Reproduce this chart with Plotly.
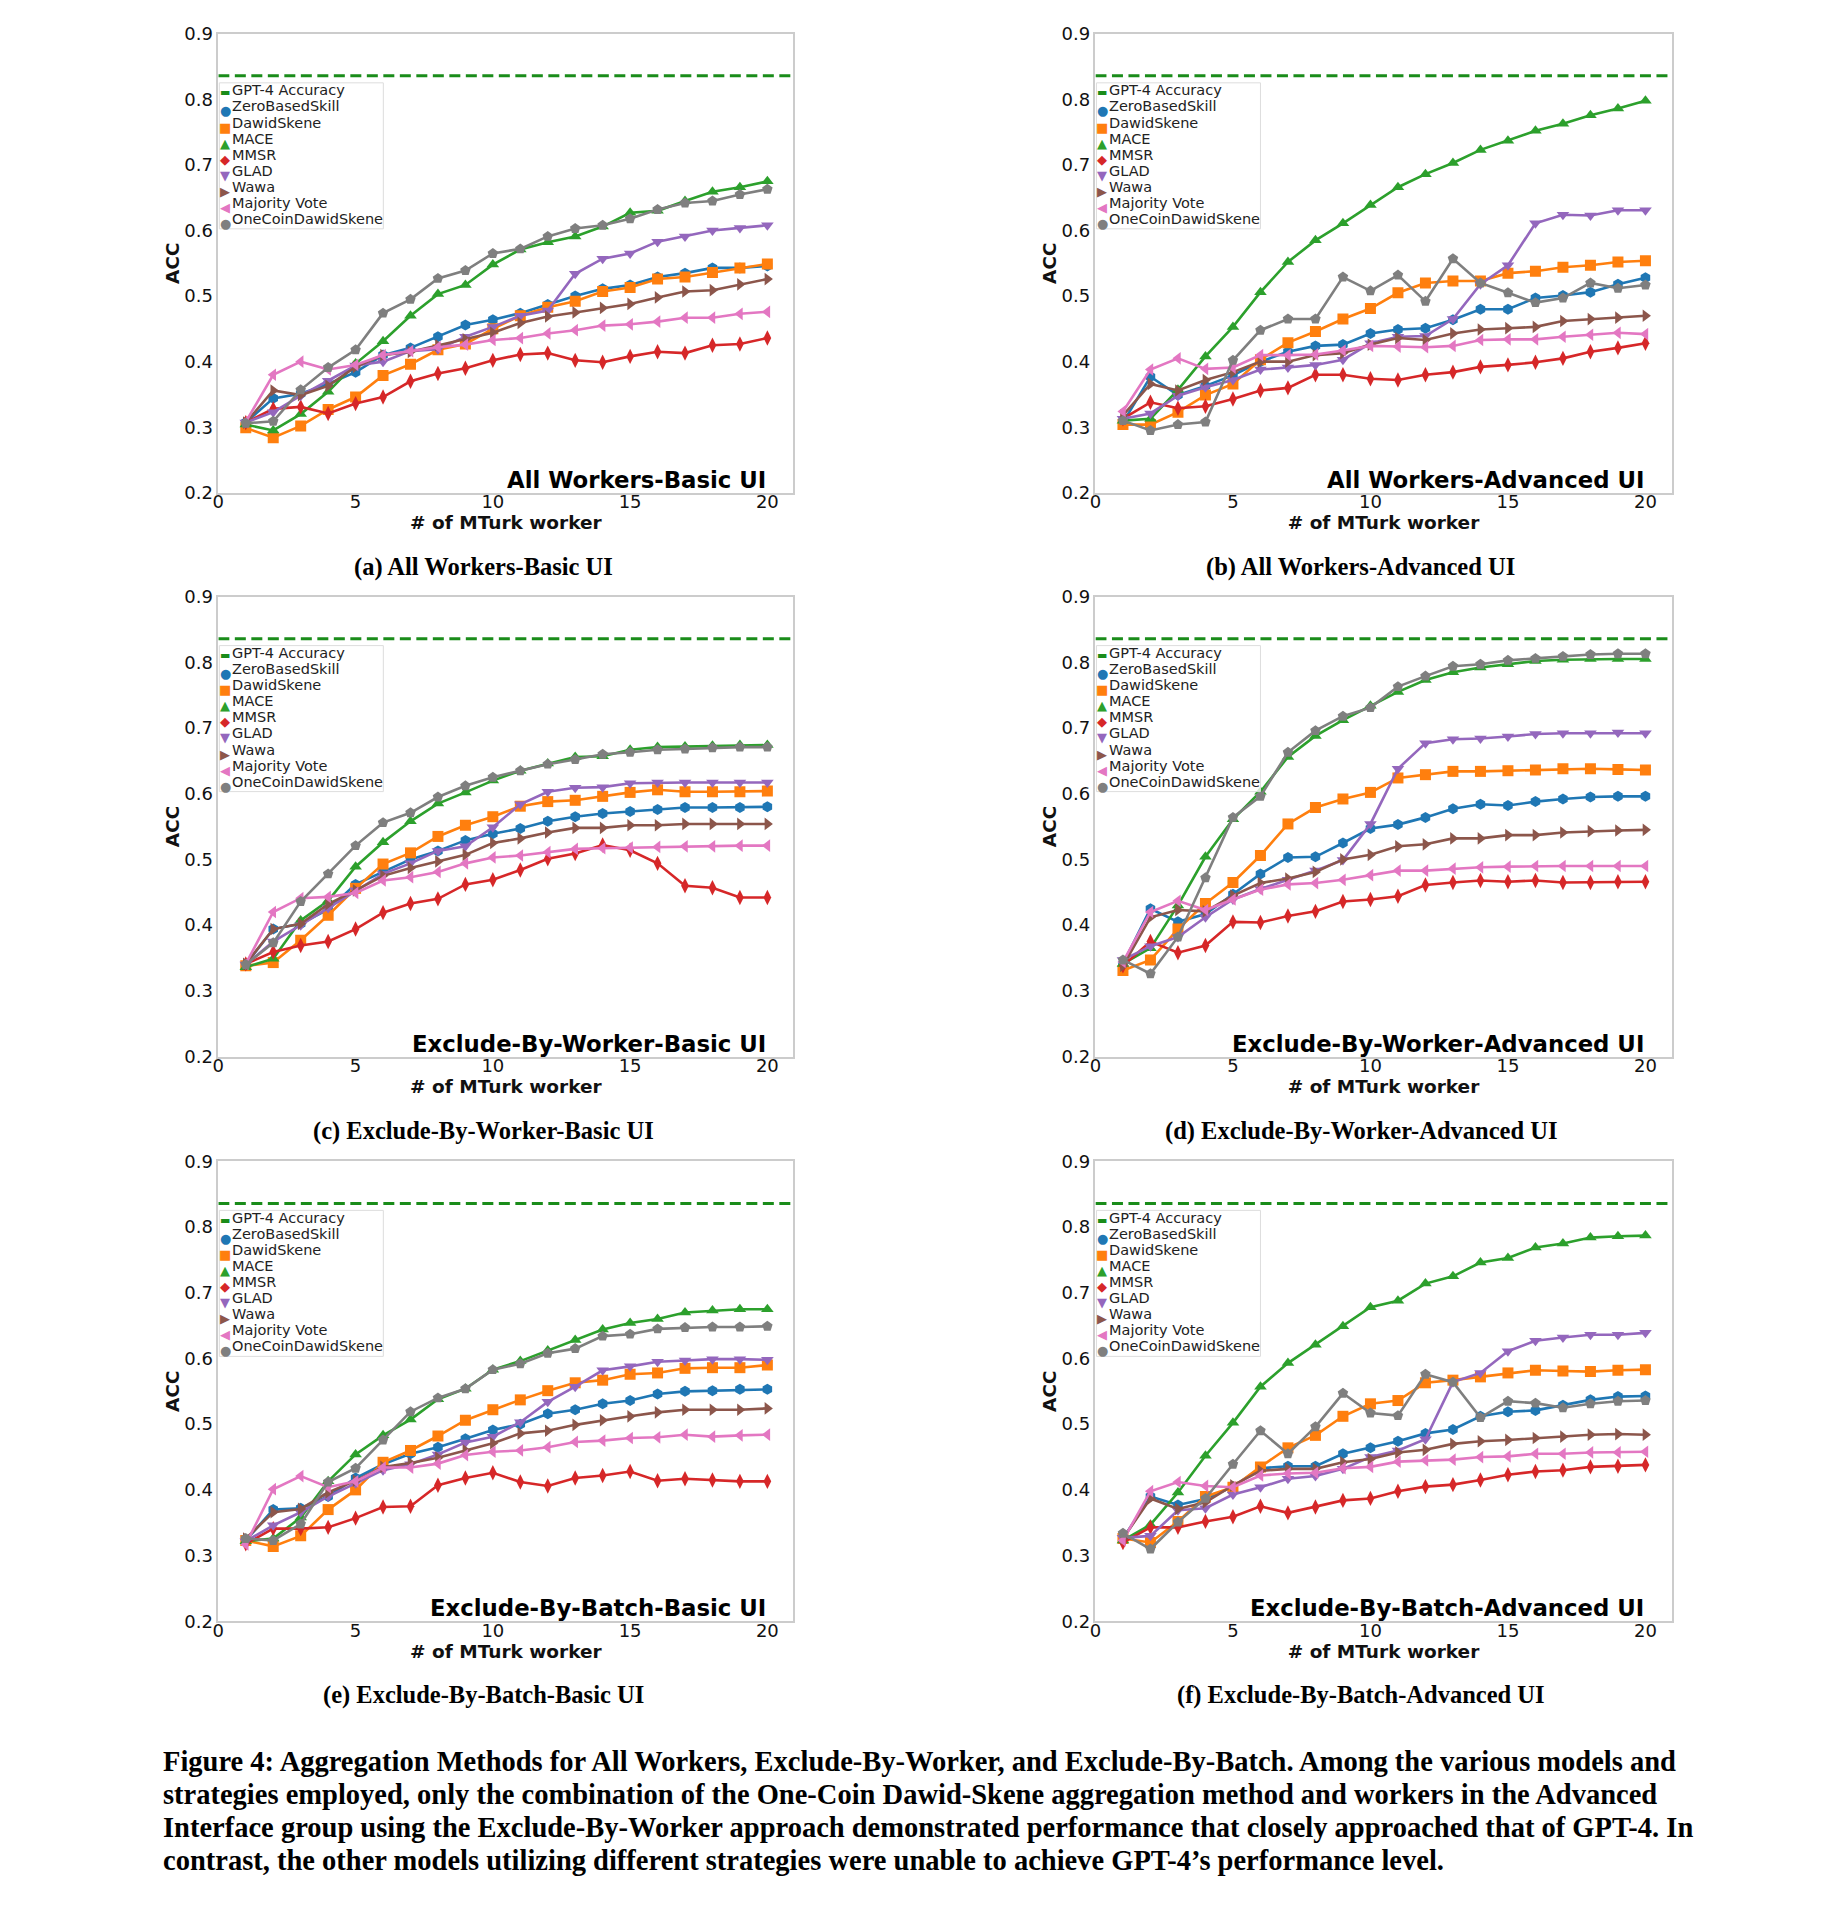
import plotly.graph_objects as go

# ---------------- data ----------------
WORKERS = [1, 2, 3, 4, 5, 6, 7, 8, 9, 10, 11, 12, 13, 14, 15, 16, 17, 18, 19, 20]
GPT4_ACC = 0.836
X_TICKS = [0, 5, 10, 15, 20]
Y_TICKS = [0.2, 0.3, 0.4, 0.5, 0.6, 0.7, 0.8, 0.9]
X_RANGE = [0, 20.95]
Y_RANGE = [0.2, 0.9]

METHODS = ["ZeroBasedSkill", "DawidSkene", "MACE", "MMSR", "GLAD", "Wawa",
           "Majority Vote", "OneCoinDawidSkene"]

# (a) All Workers - Basic UI
AWB_ZBS = [0.307, 0.344, 0.351, 0.366, 0.384, 0.410, 0.421, 0.438, 0.456, 0.464, 0.474, 0.487, 0.500, 0.511, 0.517, 0.529, 0.535, 0.543, 0.543, 0.546]
AWB_DS = [0.299, 0.284, 0.302, 0.327, 0.346, 0.379, 0.396, 0.418, 0.427, 0.450, 0.470, 0.483, 0.492, 0.507, 0.513, 0.526, 0.529, 0.536, 0.543, 0.549]
AWB_MACE = [0.304, 0.295, 0.320, 0.354, 0.397, 0.431, 0.470, 0.503, 0.517, 0.548, 0.571, 0.582, 0.591, 0.606, 0.627, 0.630, 0.645, 0.659, 0.666, 0.675]
AWB_MMSR = [0.307, 0.328, 0.331, 0.321, 0.336, 0.346, 0.370, 0.382, 0.390, 0.402, 0.411, 0.413, 0.402, 0.399, 0.408, 0.415, 0.413, 0.425, 0.427, 0.436]
AWB_GLAD = [0.307, 0.323, 0.348, 0.371, 0.394, 0.400, 0.416, 0.419, 0.438, 0.453, 0.470, 0.478, 0.534, 0.557, 0.565, 0.583, 0.591, 0.600, 0.604, 0.608]
AWB_WAWA = [0.307, 0.356, 0.349, 0.363, 0.392, 0.410, 0.415, 0.425, 0.434, 0.444, 0.459, 0.469, 0.475, 0.482, 0.488, 0.498, 0.507, 0.509, 0.518, 0.526]
AWB_MV = [0.308, 0.380, 0.400, 0.388, 0.395, 0.410, 0.416, 0.422, 0.426, 0.433, 0.436, 0.443, 0.448, 0.455, 0.457, 0.461, 0.467, 0.467, 0.473, 0.476]
AWB_OC = [0.306, 0.309, 0.357, 0.391, 0.418, 0.474, 0.495, 0.527, 0.539, 0.565, 0.572, 0.591, 0.603, 0.608, 0.618, 0.632, 0.642, 0.645, 0.655, 0.663]

# (b) All Workers - Advanced UI
AWA_ZBS = [0.307, 0.377, 0.349, 0.363, 0.379, 0.400, 0.415, 0.424, 0.426, 0.443, 0.449, 0.451, 0.464, 0.480, 0.480, 0.497, 0.501, 0.506, 0.518, 0.528]
AWA_DS = [0.304, 0.304, 0.323, 0.349, 0.366, 0.403, 0.429, 0.446, 0.465, 0.481, 0.505, 0.520, 0.523, 0.523, 0.535, 0.538, 0.544, 0.547, 0.552, 0.554]
AWA_MACE = [0.310, 0.313, 0.357, 0.408, 0.453, 0.506, 0.552, 0.585, 0.611, 0.639, 0.666, 0.686, 0.703, 0.723, 0.737, 0.752, 0.763, 0.776, 0.786, 0.798]
AWA_MMSR = [0.313, 0.338, 0.329, 0.332, 0.343, 0.356, 0.360, 0.380, 0.380, 0.374, 0.372, 0.380, 0.384, 0.392, 0.395, 0.399, 0.405, 0.415, 0.421, 0.428]
AWA_GLAD = [0.313, 0.321, 0.348, 0.361, 0.372, 0.388, 0.391, 0.395, 0.403, 0.428, 0.438, 0.439, 0.465, 0.518, 0.547, 0.611, 0.624, 0.623, 0.631, 0.631]
AWA_WAWA = [0.318, 0.366, 0.356, 0.372, 0.384, 0.400, 0.400, 0.410, 0.413, 0.426, 0.436, 0.433, 0.443, 0.449, 0.451, 0.453, 0.462, 0.465, 0.467, 0.470]
AWA_MV = [0.324, 0.388, 0.405, 0.389, 0.391, 0.410, 0.410, 0.411, 0.417, 0.424, 0.423, 0.422, 0.424, 0.433, 0.434, 0.434, 0.438, 0.441, 0.444, 0.442]
AWA_OC = [0.310, 0.295, 0.304, 0.308, 0.402, 0.448, 0.465, 0.465, 0.529, 0.508, 0.532, 0.492, 0.557, 0.520, 0.505, 0.490, 0.497, 0.520, 0.512, 0.517]

# (c) Exclude-By-Worker - Basic UI
EWB_ZBS = [0.340, 0.394, 0.402, 0.424, 0.462, 0.481, 0.500, 0.513, 0.529, 0.539, 0.547, 0.558, 0.565, 0.570, 0.573, 0.576, 0.579, 0.579, 0.579, 0.580]
EWB_DS = [0.338, 0.343, 0.377, 0.415, 0.456, 0.493, 0.510, 0.535, 0.552, 0.565, 0.581, 0.588, 0.590, 0.596, 0.602, 0.606, 0.603, 0.603, 0.603, 0.604]
EWB_MACE = [0.336, 0.349, 0.407, 0.437, 0.489, 0.526, 0.558, 0.585, 0.602, 0.620, 0.635, 0.646, 0.656, 0.657, 0.667, 0.671, 0.672, 0.673, 0.674, 0.674]
EWB_MMSR = [0.341, 0.359, 0.369, 0.375, 0.394, 0.419, 0.433, 0.440, 0.462, 0.469, 0.484, 0.501, 0.509, 0.522, 0.514, 0.494, 0.460, 0.457, 0.442, 0.442]
EWB_GLAD = [0.340, 0.375, 0.400, 0.426, 0.453, 0.478, 0.494, 0.513, 0.520, 0.549, 0.584, 0.603, 0.609, 0.610, 0.616, 0.617, 0.617, 0.617, 0.617, 0.617]
EWB_WAWA = [0.341, 0.394, 0.402, 0.432, 0.453, 0.475, 0.487, 0.497, 0.507, 0.525, 0.532, 0.541, 0.548, 0.548, 0.552, 0.552, 0.554, 0.554, 0.554, 0.554]
EWB_MV = [0.341, 0.420, 0.441, 0.443, 0.449, 0.468, 0.473, 0.481, 0.494, 0.503, 0.506, 0.511, 0.516, 0.517, 0.518, 0.519, 0.520, 0.520, 0.521, 0.521]
EWB_OC = [0.340, 0.373, 0.436, 0.478, 0.521, 0.556, 0.571, 0.595, 0.612, 0.625, 0.635, 0.645, 0.652, 0.660, 0.663, 0.667, 0.668, 0.670, 0.671, 0.671]

# (d) Exclude-By-Worker - Advanced UI
EWA_ZBS = [0.341, 0.425, 0.405, 0.417, 0.447, 0.478, 0.503, 0.504, 0.525, 0.547, 0.553, 0.564, 0.577, 0.584, 0.582, 0.588, 0.592, 0.595, 0.596, 0.596]
EWA_DS = [0.331, 0.347, 0.394, 0.433, 0.465, 0.506, 0.554, 0.579, 0.592, 0.602, 0.624, 0.629, 0.634, 0.634, 0.635, 0.636, 0.638, 0.638, 0.637, 0.636]
EWA_MACE = [0.341, 0.365, 0.430, 0.504, 0.561, 0.603, 0.656, 0.688, 0.712, 0.734, 0.755, 0.773, 0.785, 0.792, 0.797, 0.802, 0.804, 0.805, 0.805, 0.805]
EWA_MMSR = [0.338, 0.375, 0.358, 0.369, 0.405, 0.404, 0.414, 0.421, 0.436, 0.439, 0.444, 0.461, 0.465, 0.468, 0.466, 0.468, 0.465, 0.465, 0.466, 0.466]
EWA_GLAD = [0.347, 0.368, 0.382, 0.412, 0.439, 0.455, 0.469, 0.483, 0.499, 0.554, 0.638, 0.677, 0.683, 0.684, 0.687, 0.691, 0.692, 0.692, 0.693, 0.692]
EWA_WAWA = [0.338, 0.412, 0.423, 0.421, 0.445, 0.464, 0.471, 0.481, 0.500, 0.507, 0.520, 0.523, 0.532, 0.532, 0.537, 0.537, 0.541, 0.543, 0.544, 0.545]
EWA_MV = [0.344, 0.420, 0.437, 0.423, 0.439, 0.454, 0.462, 0.464, 0.469, 0.476, 0.483, 0.483, 0.486, 0.488, 0.489, 0.490, 0.490, 0.490, 0.490, 0.490]
EWA_OC = [0.347, 0.326, 0.382, 0.472, 0.564, 0.596, 0.663, 0.696, 0.718, 0.731, 0.763, 0.779, 0.794, 0.797, 0.803, 0.806, 0.809, 0.812, 0.813, 0.813]

# (e) Exclude-By-Batch - Basic UI
EBB_ZBS = [0.323, 0.370, 0.372, 0.390, 0.418, 0.439, 0.455, 0.465, 0.478, 0.491, 0.500, 0.516, 0.522, 0.531, 0.536, 0.546, 0.550, 0.551, 0.553, 0.553]
EBB_DS = [0.323, 0.314, 0.330, 0.370, 0.400, 0.442, 0.460, 0.482, 0.506, 0.522, 0.537, 0.551, 0.563, 0.567, 0.576, 0.578, 0.585, 0.586, 0.586, 0.590]
EBB_MACE = [0.322, 0.326, 0.358, 0.413, 0.454, 0.483, 0.507, 0.538, 0.554, 0.583, 0.596, 0.612, 0.628, 0.644, 0.654, 0.660, 0.670, 0.673, 0.675, 0.675]
EBB_MMSR = [0.318, 0.341, 0.341, 0.343, 0.357, 0.374, 0.375, 0.407, 0.418, 0.426, 0.412, 0.406, 0.418, 0.422, 0.428, 0.414, 0.417, 0.415, 0.413, 0.413]
EBB_GLAD = [0.322, 0.346, 0.366, 0.390, 0.410, 0.430, 0.439, 0.454, 0.472, 0.481, 0.503, 0.534, 0.557, 0.582, 0.588, 0.595, 0.597, 0.599, 0.599, 0.598]
EBB_WAWA = [0.326, 0.366, 0.371, 0.396, 0.414, 0.435, 0.441, 0.449, 0.460, 0.471, 0.486, 0.490, 0.499, 0.506, 0.512, 0.518, 0.522, 0.522, 0.522, 0.524]
EBB_MV = [0.317, 0.401, 0.421, 0.404, 0.413, 0.434, 0.434, 0.440, 0.453, 0.458, 0.460, 0.465, 0.473, 0.475, 0.479, 0.480, 0.484, 0.481, 0.483, 0.484]
EBB_OC = [0.326, 0.323, 0.348, 0.412, 0.433, 0.476, 0.519, 0.540, 0.554, 0.583, 0.592, 0.608, 0.615, 0.634, 0.637, 0.645, 0.647, 0.648, 0.648, 0.649]

# (f) Exclude-By-Batch - Advanced UI
EBA_ZBS = [0.326, 0.390, 0.377, 0.386, 0.405, 0.433, 0.436, 0.436, 0.455, 0.464, 0.474, 0.486, 0.492, 0.512, 0.519, 0.521, 0.529, 0.537, 0.542, 0.543]
EBA_DS = [0.326, 0.320, 0.352, 0.390, 0.404, 0.435, 0.464, 0.483, 0.512, 0.531, 0.536, 0.563, 0.567, 0.572, 0.578, 0.582, 0.581, 0.580, 0.582, 0.583]
EBA_MACE = [0.323, 0.347, 0.396, 0.452, 0.502, 0.557, 0.593, 0.621, 0.649, 0.678, 0.688, 0.714, 0.725, 0.746, 0.753, 0.769, 0.775, 0.784, 0.786, 0.787]
EBA_MMSR = [0.320, 0.343, 0.343, 0.352, 0.359, 0.375, 0.365, 0.374, 0.384, 0.387, 0.398, 0.405, 0.408, 0.415, 0.423, 0.428, 0.430, 0.435, 0.436, 0.438]
EBA_GLAD = [0.327, 0.330, 0.369, 0.372, 0.393, 0.404, 0.417, 0.421, 0.432, 0.450, 0.460, 0.477, 0.564, 0.578, 0.611, 0.627, 0.632, 0.636, 0.636, 0.639]
EBA_WAWA = [0.326, 0.387, 0.371, 0.381, 0.407, 0.429, 0.432, 0.432, 0.442, 0.447, 0.457, 0.461, 0.470, 0.474, 0.476, 0.479, 0.481, 0.484, 0.485, 0.484]
EBA_MV = [0.323, 0.398, 0.412, 0.406, 0.404, 0.422, 0.425, 0.426, 0.433, 0.435, 0.443, 0.445, 0.446, 0.450, 0.451, 0.455, 0.455, 0.457, 0.457, 0.458]
EBA_OC = [0.334, 0.310, 0.351, 0.387, 0.439, 0.490, 0.455, 0.496, 0.547, 0.517, 0.513, 0.576, 0.564, 0.510, 0.535, 0.532, 0.525, 0.531, 0.535, 0.536]

PANEL_TITLES = ["All Workers-Basic UI", "All Workers-Advanced UI",
                "Exclude-By-Worker-Basic UI", "Exclude-By-Worker-Advanced UI",
                "Exclude-By-Batch-Basic UI", "Exclude-By-Batch-Advanced UI"]
PANEL_CAPTIONS = ["(a) All Workers-Basic UI", "(b) All Workers-Advanced UI",
                  "(c) Exclude-By-Worker-Basic UI", "(d) Exclude-By-Worker-Advanced UI",
                  "(e) Exclude-By-Batch-Basic UI", "(f) Exclude-By-Batch-Advanced UI"]
PANEL_SERIES = [
    [AWB_ZBS, AWB_DS, AWB_MACE, AWB_MMSR, AWB_GLAD, AWB_WAWA, AWB_MV, AWB_OC],
    [AWA_ZBS, AWA_DS, AWA_MACE, AWA_MMSR, AWA_GLAD, AWA_WAWA, AWA_MV, AWA_OC],
    [EWB_ZBS, EWB_DS, EWB_MACE, EWB_MMSR, EWB_GLAD, EWB_WAWA, EWB_MV, EWB_OC],
    [EWA_ZBS, EWA_DS, EWA_MACE, EWA_MMSR, EWA_GLAD, EWA_WAWA, EWA_MV, EWA_OC],
    [EBB_ZBS, EBB_DS, EBB_MACE, EBB_MMSR, EBB_GLAD, EBB_WAWA, EBB_MV, EBB_OC],
    [EBA_ZBS, EBA_DS, EBA_MACE, EBA_MMSR, EBA_GLAD, EBA_WAWA, EBA_MV, EBA_OC],
]

CAPTION_LINES = [
    "Figure 4: Aggregation Methods for All Workers, Exclude-By-Worker, and Exclude-By-Batch. Among the various models and",
    "strategies employed, only the combination of the One-Coin Dawid-Skene aggregation method and workers in the Advanced",
    "Interface group using the Exclude-By-Worker approach demonstrated performance that closely approached that of GPT-4. In",
    "contrast, the other models utilizing different strategies were unable to achieve GPT-4\u2019s performance level.",
]

# ---------------- style ----------------
COLORS = ["#1f77b4", "#ff7f0e", "#2ca02c", "#d62728", "#9467bd", "#8c564b", "#e377c2", "#7f7f7f"]
SYMBOLS = ["hexagon", "square", "triangle-up", "diamond-tall", "triangle-down",
           "triangle-right", "triangle-left", "pentagon"]
LEGEND_GLYPHS = ["\u25CF", "\u25A0", "\u25B2", "\u25C6", "\u25BC", "\u25B6", "\u25C0", "\u25CF"]
GPT_COLOR = "#1a8c1a"
SANS = "DejaVu Sans, sans-serif"
SERIF = "Liberation Serif, DejaVu Serif, serif"

W, H = 1836, 1921
COL_X = [(205, 782), (1085, 1663)]
ROW_Y = [(15, 479), (584, 1049), (1155, 1620)]
CAP_Y = [554, 1124, 1695]
CAP_X = [471, 1351]
LEG_TOP = 49      # px below the axes top
LEG_W = 164
LEG_H = 146
LEG_FIRST = 7.6
LEG_PITCH = 16.05

fig = go.Figure()
layout = {}
annotations = []
shapes = []

for p in range(6):
    r, c = divmod(p, 2)
    k = p + 1
    xs = "" if k == 1 else str(k)
    x0, x1 = COL_X[c]
    y0, y1 = ROW_Y[r]

    fig.add_trace(go.Scatter(
        x=X_RANGE, y=[GPT4_ACC, GPT4_ACC], mode="lines", name="GPT-4 Accuracy",
        line=dict(color=GPT_COLOR, width=3, dash="11px,5.5px"),
        xaxis="x" + xs, yaxis="y" + xs, showlegend=False))
    for m, name in enumerate(METHODS):
        fig.add_trace(go.Scatter(
            x=WORKERS, y=PANEL_SERIES[p][m], mode="lines+markers", name=name,
            line=dict(color=COLORS[m], width=2.6),
            marker=dict(symbol=SYMBOLS[m], size=11, color=COLORS[m]),
            xaxis="x" + xs, yaxis="y" + xs, showlegend=False))

    axis_common = dict(showline=True, mirror=True, linecolor="#cccccc", linewidth=1.5,
                       showgrid=False, zeroline=False, ticks="",
                       tickfont=dict(family=SANS, size=18, color="#111111"))
    layout["xaxis" + xs] = dict(
        domain=[x0 / W, x1 / W], range=X_RANGE, anchor="y" + xs,
        tickvals=X_TICKS, ticktext=[str(t) for t in X_TICKS], ticklabelstandoff=-8,
        title=dict(text="<b># of MTurk worker</b>", standoff=2,
                   font=dict(family=SANS, size=18.5, color="#111111")),
        **axis_common)
    layout["yaxis" + xs] = dict(
        domain=[1 - y1 / H, 1 - y0 / H], range=Y_RANGE, anchor="x" + xs,
        tickvals=Y_TICKS, ticktext=[f"{t:.1f}" for t in Y_TICKS],
        title=dict(text="<b>ACC</b>", standoff=0,
                   font=dict(family=SANS, size=18.5, color="#111111")),
        **axis_common)

    # legend box + entries
    shapes.append(dict(
        type="rect", xref="x" + xs + " domain", yref="y" + xs + " domain",
        xsizemode="pixel", ysizemode="pixel", xanchor=0, yanchor=1,
        x0=1, x1=1 + LEG_W, y0=-LEG_TOP, y1=-LEG_TOP - LEG_H,
        fillcolor="rgba(255,255,255,0.8)", line=dict(color="#dddddd", width=1), layer="above"))
    entries = [("GPT-4 Accuracy", "\u25AC", GPT_COLOR, 2.5, 11)] + \
              [(METHODS[m], LEGEND_GLYPHS[m], COLORS[m], 4.5, 13) for m in range(8)]
    for i, (label, glyph, col, dy, gsize) in enumerate(entries):
        yc = -(LEG_TOP + LEG_FIRST + LEG_PITCH * i)
        annotations.append(dict(
            x=0, y=1, xref="x" + xs + " domain", yref="y" + xs + " domain",
            xanchor="left", yanchor="middle", xshift=13, yshift=yc,
            text=label, showarrow=False, borderpad=0,
            font=dict(family=SANS, size=14.5, color="#222222")))
        annotations.append(dict(
            x=0, y=1, xref="x" + xs + " domain", yref="y" + xs + " domain",
            xanchor="center", yanchor="middle", xshift=7, yshift=yc - dy,
            text=glyph, showarrow=False, borderpad=0,
            font=dict(family=SANS, size=gsize, color=col)))

    annotations.append(dict(
        x=20, y=Y_RANGE[0], xref="x" + xs, yref="y" + xs, xanchor="right", yanchor="bottom",
        text=f"<b>{PANEL_TITLES[p]}</b>", showarrow=False, yshift=-1, borderpad=0,
        font=dict(family=SANS, size=22.8, color="#000000")))
    annotations.append(dict(
        x=CAP_X[c] / W, y=1 - CAP_Y[r] / H, xref="paper", yref="paper",
        xanchor="center", yanchor="middle", text=f"<b>{PANEL_CAPTIONS[p]}</b>",
        showarrow=False, font=dict(family=SERIF, size=24.5, color="#000000")))

fig.update_layout(**layout)

for i, line in enumerate(CAPTION_LINES):
    annotations.append(dict(
        x=147 / W, y=1 - (1761.5 + 33.5 * i) / H, xref="paper", yref="paper",
        xanchor="left", yanchor="middle", text=f"<b>{line}</b>", showarrow=False,
        font=dict(family=SERIF, size=28.5, color="#000000")))

fig.update_layout(
    width=W, height=H, margin=dict(l=0, r=0, t=0, b=0),
    paper_bgcolor="white", plot_bgcolor="white",
    annotations=annotations, shapes=shapes, showlegend=False)

fig.write_html("out.html")
